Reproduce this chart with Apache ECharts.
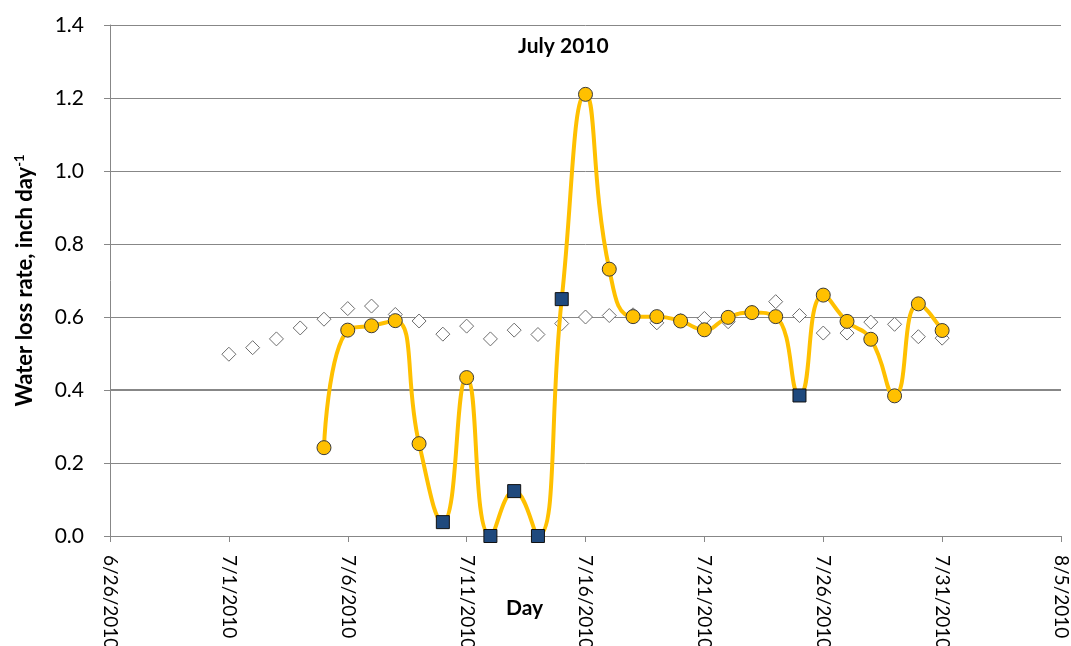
<!DOCTYPE html>
<html>
<head>
<meta charset="utf-8">
<title>Water loss rate, July 2010</title>
<script src="https://cdn.jsdelivr.net/npm/echarts@6/dist/echarts.min.js"></script>
<style>
  html, body { margin: 0; padding: 0; background: #ffffff; }
  #chart { width: 1071px; height: 646px; }
</style>
</head>
<body>
<div id="chart"></div>
<script>
// Reference rate (open diamonds), one value per day
const referenceDates = [
  '7/1/2010', '7/2/2010', '7/3/2010', '7/4/2010', '7/5/2010', '7/6/2010', '7/7/2010',
  '7/8/2010', '7/9/2010', '7/10/2010', '7/11/2010', '7/12/2010', '7/13/2010', '7/14/2010',
  '7/15/2010', '7/16/2010', '7/17/2010', '7/18/2010', '7/19/2010', '7/20/2010', '7/21/2010',
  '7/22/2010', '7/23/2010', '7/24/2010', '7/25/2010', '7/26/2010', '7/27/2010', '7/28/2010',
  '7/29/2010', '7/30/2010', '7/31/2010'
];
const referenceRate = [
  0.498, 0.516, 0.540, 0.570, 0.594, 0.623, 0.630,
  0.607, 0.589, 0.553, 0.575, 0.540, 0.564, 0.552,
  0.582, 0.600, 0.604, 0.606, 0.584, 0.590, 0.596,
  0.587, 0.613, 0.642, 0.604, 0.556, 0.556, 0.586,
  0.580, 0.546, 0.542
];

// Measured rate (yellow smoothed line)
const measuredDates = [
  '7/5/2010', '7/6/2010', '7/7/2010', '7/8/2010', '7/9/2010', '7/10/2010', '7/11/2010',
  '7/12/2010', '7/13/2010', '7/14/2010', '7/15/2010', '7/16/2010', '7/17/2010', '7/18/2010',
  '7/19/2010', '7/20/2010', '7/21/2010', '7/22/2010', '7/23/2010', '7/24/2010', '7/25/2010',
  '7/26/2010', '7/27/2010', '7/28/2010', '7/29/2010', '7/30/2010', '7/31/2010'
];
const measuredRate = [
  0.242, 0.564, 0.576, 0.590, 0.253, 0.038, 0.434,
  0.000, 0.123, 0.000, 0.649, 1.210, 0.731, 0.601,
  0.601, 0.589, 0.565, 0.599, 0.612, 0.601, 0.385,
  0.660, 0.588, 0.539, 0.384, 0.636, 0.563
];

// Days drawn with the square marker instead of a circle
const flaggedDates = ['7/10/2010', '7/12/2010', '7/13/2010', '7/14/2010', '7/15/2010', '7/25/2010'];

const xTickLabels = ['6/26/2010', '7/1/2010', '7/6/2010', '7/11/2010', '7/16/2010',
                     '7/21/2010', '7/26/2010', '7/31/2010', '8/5/2010'];
const yTickValues = [0, 0.2, 0.4, 0.6, 0.8, 1.0, 1.2, 1.4];

// x is counted in days from the first tick date
const DAY_MS = 86400000;
function parseDate(s) {
  const p = s.split('/').map(Number);
  return Date.UTC(p[2], p[0] - 1, p[1]);
}
const origin = parseDate(xTickLabels[0]);
function dayOffset(s) { return Math.round((parseDate(s) - origin) / DAY_MS); }
const xStep = dayOffset(xTickLabels[1]);
const xMax = dayOffset(xTickLabels[xTickLabels.length - 1]);

const referencePoints = referenceDates.map((d, i) => [dayOffset(d), referenceRate[i]]);
const measuredPoints = measuredDates.map((d, i) => [dayOffset(d), measuredRate[i]]);
const circlePoints = measuredPoints.filter((p, i) => flaggedDates.indexOf(measuredDates[i]) < 0);
const squarePoints = measuredPoints.filter((p, i) => flaggedDates.indexOf(measuredDates[i]) >= 0);

const FONT = 'Lato, "Open Sans", sans-serif';
const chart = echarts.init(document.getElementById('chart'), null, { renderer: 'canvas' });

chart.setOption({
  backgroundColor: '#ffffff',
  animation: false,
  grid: { left: 110, right: 10, top: 25, bottom: 110, containLabel: false, outerBoundsMode: 'none' },
  title: {
    text: 'July 2010',
    left: 513,
    top: 31,
    textStyle: { fontFamily: FONT, fontSize: 21, fontWeight: 'bold', color: '#000000' }
  },
  graphic: [{
    type: 'text',
    left: 506,
    top: 598,
    style: { text: 'Day', fontFamily: FONT, fontSize: 21, fontWeight: 'bold', fill: '#000000' }
  }],
  xAxis: {
    type: 'value',
    min: 0,
    max: xMax,
    interval: xStep,
    splitLine: { show: false },
    axisLine: { show: true, lineStyle: { color: '#878787', width: 1 } },
    axisTick: { show: true, inside: false, length: 6, lineStyle: { color: '#878787' } },
    axisLabel: {
      rotate: -90,
      margin: 19,
      fontFamily: FONT,
      fontSize: 19,
      color: '#000000',
      hideOverlap: false,
      formatter: v => xTickLabels[Math.round(v / xStep)] || ''
    }
  },
  yAxis: {
    type: 'value',
    min: yTickValues[0],
    max: yTickValues[yTickValues.length - 1],
    interval: yTickValues[1] - yTickValues[0],
    name: '{t|Water loss rate, inch day}{s|-1}',
    nameLocation: 'middle',
    nameGap: 74,
    nameTextStyle: {
      rich: {
        t: { fontFamily: FONT, fontSize: 22, fontWeight: 'bold', color: '#000000' },
        s: { fontFamily: FONT, fontSize: 13, fontWeight: 'bold', color: '#000000', verticalAlign: 'top', padding: [0, 0, 10, 0] }
      }
    },
    splitLine: { show: true, lineStyle: { color: '#878787', width: 1 } },
    axisLine: { show: true, lineStyle: { color: '#878787', width: 1 } },
    axisTick: { show: true, inside: false, length: 6, lineStyle: { color: '#878787' } },
    axisLabel: {
      margin: 26,
      fontFamily: FONT,
      fontSize: 21,
      color: '#000000',
      formatter: v => v.toFixed(1)
    }
  },
  series: [
    {
      name: 'Reference',
      type: 'scatter',
      data: referencePoints,
      symbol: 'diamond',
      symbolSize: 14,
      itemStyle: { color: '#ffffff', borderColor: '#6e6e6e', borderWidth: 1, opacity: 1 },
      z: 2,
      markLine: {
        silent: true,
        symbol: 'none',
        label: { show: false },
        lineStyle: { color: '#878787', width: 2, type: 'solid' },
        data: [{ yAxis: 0.4 }],
        z: 1
      }
    },
    {
      name: 'Measured',
      type: 'line',
      data: measuredPoints,
      smooth: 0.5,
      showSymbol: false,
      lineStyle: { color: '#FFC000', width: 4 },
      itemStyle: { color: '#FFC000' },
      z: 3
    },
    {
      name: 'Measured (circles)',
      type: 'scatter',
      data: circlePoints,
      symbol: 'circle',
      symbolSize: 14,
      itemStyle: { color: '#FFC000', borderColor: '#3b3b3b', borderWidth: 1, opacity: 1 },
      z: 4
    },
    {
      name: 'Measured (squares)',
      type: 'scatter',
      data: squarePoints,
      symbol: 'rect',
      symbolSize: 13,
      itemStyle: { color: '#1F497D', borderColor: '#111111', borderWidth: 1, opacity: 1 },
      z: 5
    }
  ]
});
</script>
</body>
</html>
